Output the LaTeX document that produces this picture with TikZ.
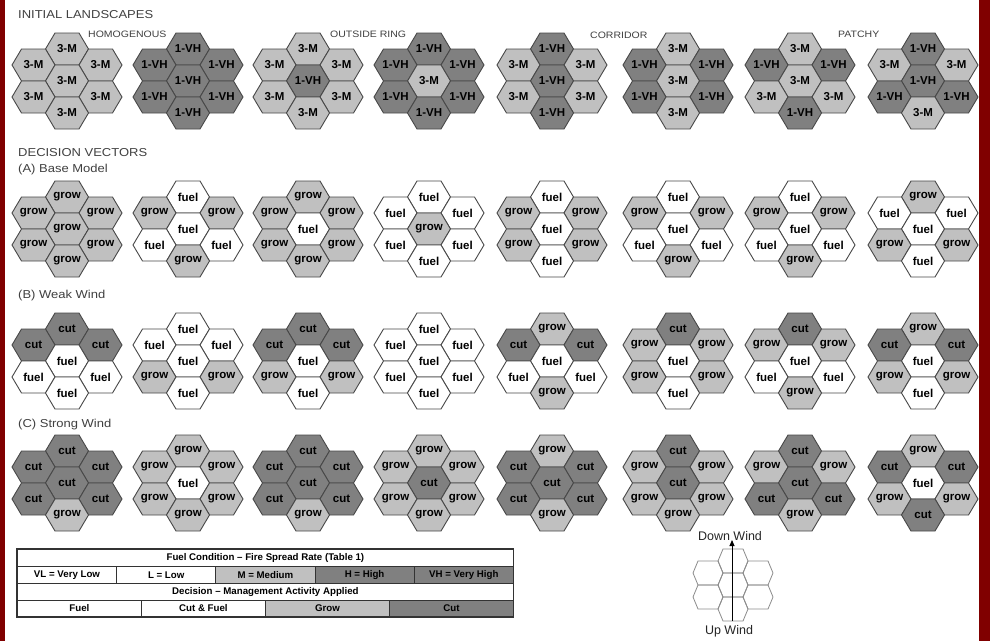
\documentclass[tikz,border=0pt]{standalone}
\usepackage{fontspec}
\setmainfont{Liberation Sans}
\newfontfamily\headfont{Liberation Sans}[FakeStretch=1.13]
\usetikzlibrary{arrows.meta}

\definecolor{cellLight}{RGB}{192,192,192}
\definecolor{cellDark}{RGB}{128,128,128}
\definecolor{cellEdge}{RGB}{72,72,72}
\definecolor{headGray}{RGB}{64,64,64}
\definecolor{frameRed}{RGB}{128,0,0}
\colorlet{fillM}{cellLight}
\colorlet{fillVH}{cellDark}
\colorlet{fillgrow}{cellLight}
\colorlet{fillfuel}{white}
\colorlet{fillcut}{cellDark}

\pgfkeys{/hexkind/.cd, M/.initial={3-M}, VH/.initial={1-VH},
  grow/.initial=grow, fuel/.initial=fuel, cut/.initial=cut}

\tikzset{
    hexcell/.style = {draw=cellEdge, line width=0.9pt},
    hexlabel/.style = {inner sep=0pt, font=\bfseries\fontsize{11.5}{12}\selectfont},
    heading/.style = {anchor=west, inner sep=0pt, text=headGray, font=\headfont\fontsize{11.5}{13}\selectfont},
    subheading/.style = {anchor=west, inner sep=0pt, text=headGray, font=\headfont\fontsize{9.3}{11}\selectfont},
    tabcell/.style = {draw=black!80, line width=0.8pt, anchor=north west, minimum height=16.75pt, inner sep=0pt, font=\bfseries\fontsize{9.7}{11}\selectfont},
    windhex/.style = {draw=black!45, line width=0.8pt},
    windtext/.style = {inner sep=0pt, text=black!85, font=\fontsize{12.5}{14}\selectfont}
}

% seven cells: top, upper left, upper right, centre, lower left, lower right, bottom
\newcommand{\hexcluster}[4]{%
  \foreach \k [count=\i] in #4 {
    \pgfmathsetmacro{\dx}{{0,-33.5,33.5,0,-33.5,33.5,0}[\i-1]}
    \pgfmathsetmacro{\dy}{{-32,-16,-16,0,16,16,32}[\i-1]}
    \filldraw[hexcell, fill=fill\k, shift={(#2+\dx,#3+\dy)}]
      (-21.5,0) -- (-12,-16) -- (12,-16) -- (21.5,0) -- (12,16) -- (-12,16) -- cycle;
    \node[hexlabel] (#1-\i) at (#2+\dx,#3+\dy) {\pgfkeysvalueof{/hexkind/\k}};
  }%
}

\begin{document}
\begin{tikzpicture}[x=1pt, y=-1pt]
\useasboundingbox (0,0) rectangle (990,641);
\fill[white] (0,0) rectangle (990,641);
\fill[frameRed] (0,0) rectangle (5,641);
\fill[frameRed] (979,0) rectangle (990,641);

% headings
\node[heading] (initial) at (18,15) {INITIAL LANDSCAPES};
\node[subheading] (homog) at (88,34) {HOMOGENOUS};
\node[subheading] (ring) at (330,34) {OUTSIDE RING};
\node[subheading] (corridor) at (590,35) {CORRIDOR};
\node[subheading] (patchy) at (838,34) {PATCHY};
\node[heading] (decision) at (18,153) {DECISION VECTORS};
\node[heading] (basemodel) at (18,170) {(A) Base Model};
\node[heading] (weakwind) at (18,296) {(B) Weak Wind};
\node[heading] (strongwind) at (18,425) {(C) Strong Wind};

% initial landscapes
\foreach \x/\cells [count=\n] in {
    67/{M,M,M,M,M,M,M}, 188/{VH,VH,VH,VH,VH,VH,VH},
    308/{M,M,M,VH,M,M,M}, 429/{VH,VH,VH,M,VH,VH,VH},
    552/{VH,M,M,VH,M,M,VH}, 678/{M,VH,VH,M,VH,VH,M},
    800/{M,VH,VH,M,M,M,VH}, 923/{VH,M,M,VH,VH,VH,M}}
  \hexcluster{land\n}{\x}{81}{\cells};

% (A) base model
\foreach \x/\cells [count=\n] in {
    67/{grow,grow,grow,grow,grow,grow,grow}, 188/{fuel,grow,grow,fuel,fuel,fuel,grow},
    308/{grow,grow,grow,fuel,grow,grow,grow}, 429/{fuel,fuel,fuel,grow,fuel,fuel,fuel},
    552/{fuel,grow,grow,fuel,grow,grow,fuel}, 678/{fuel,grow,grow,fuel,fuel,fuel,grow},
    800/{fuel,grow,grow,fuel,fuel,fuel,grow}, 923/{grow,fuel,fuel,fuel,grow,grow,fuel}}
  \hexcluster{base\n}{\x}{229}{\cells};

% (B) weak wind
\foreach \x/\cells [count=\n] in {
    67/{cut,cut,cut,fuel,fuel,fuel,fuel}, 188/{fuel,fuel,fuel,fuel,grow,grow,fuel},
    308/{cut,cut,cut,fuel,grow,grow,fuel}, 429/{fuel,fuel,fuel,fuel,fuel,fuel,fuel},
    552/{grow,cut,cut,fuel,fuel,fuel,grow}, 678/{cut,grow,grow,fuel,grow,grow,fuel},
    800/{cut,grow,grow,fuel,fuel,fuel,grow}, 923/{grow,cut,cut,fuel,grow,grow,fuel}}
  \hexcluster{weak\n}{\x}{361}{\cells};

% (C) strong wind
\foreach \x/\cells [count=\n] in {
    67/{cut,cut,cut,cut,cut,cut,grow}, 188/{grow,grow,grow,fuel,grow,grow,grow},
    308/{cut,cut,cut,cut,cut,cut,grow}, 429/{grow,grow,grow,cut,grow,grow,grow},
    552/{grow,cut,cut,cut,cut,cut,grow}, 678/{cut,grow,grow,cut,grow,grow,grow},
    800/{cut,grow,grow,cut,cut,cut,grow}, 923/{grow,cut,cut,fuel,grow,grow,cut}}
  \hexcluster{strong\n}{\x}{483}{\cells};

% legend table
\node[tabcell, minimum width=496pt] (fuelhead) at (17,549) {Fuel Condition – Fire Spread Rate (Table 1)};
\foreach \t/\c [count=\n] in {VL = Very Low/white, L = Low/white, M = Medium/cellLight, H = High/cellDark, VH = Very High/cellDark}
  \node[tabcell, minimum width=99.2pt, fill=\c] (rate\n) at (17+99.2*\n-99.2,566) {\t};
\node[tabcell, minimum width=496pt] (dechead) at (17,582.75) {Decision – Management Activity Applied};
\foreach \t/\c [count=\n] in {Fuel/white, Cut \& Fuel/white, Grow/cellLight, Cut/cellDark}
  \node[tabcell, minimum width=124pt, fill=\c] (act\n) at (17+124*\n-124,599.5) {\t};
\draw[black!80, line width=1.1pt] (fuelhead.north west) rectangle (act4.south east);

% wind direction
\foreach \dx/\dy in {0/-24, -25/-12, 25/-12, 0/0, -25/12, 25/12, 0/24}
  \draw[windhex, shift={(733+\dx,585+\dy)}]
    (-15,0) -- (-10,-12) -- (10,-12) -- (15,0) -- (10,12) -- (-10,12) -- cycle;
\node[windtext] (downwind) at (730,536) {Down Wind};
\node[windtext] (upwind) at (729,631) {Up Wind};
\coordinate (windtail) at (732,621);
\coordinate (windhead) at (732,540);
\draw[line width=0.9pt, -{Triangle[length=6pt,width=5pt]}] (windtail) -- (windhead);
\end{tikzpicture}
\end{document}
